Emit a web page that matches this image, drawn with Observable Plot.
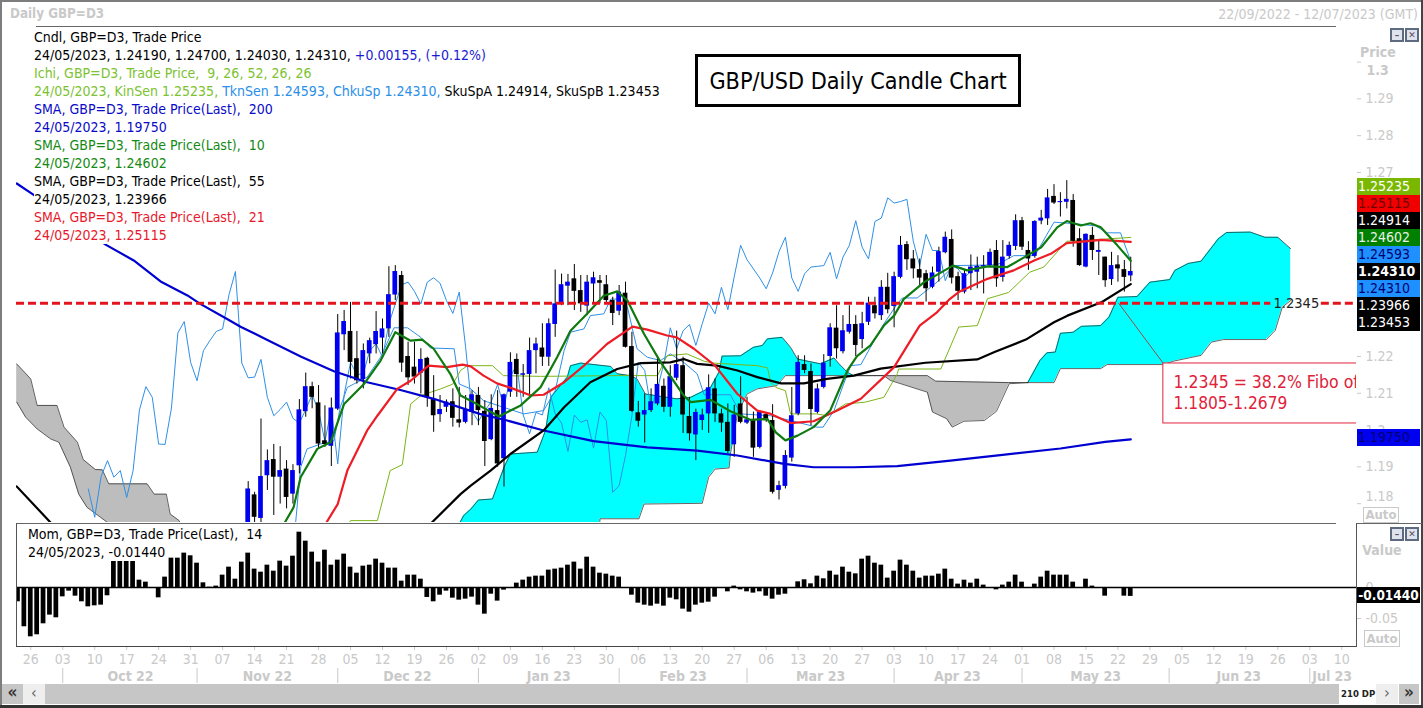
<!DOCTYPE html>
<html><head><meta charset="utf-8">
<script src="https://cdn.jsdelivr.net/npm/d3@7"></script>
<script src="https://cdn.jsdelivr.net/npm/@observablehq/plot@0.6"></script>
<style>
html,body{margin:0;padding:0;background:#fff}
#root{position:relative;width:1423px;height:708px;overflow:hidden;background:#fff;font-family:"DejaVu Sans Condensed","DejaVu Sans",sans-serif;font-stretch:condensed}
.abs{position:absolute;white-space:pre}
#root svg{position:absolute;background:transparent}
.row{position:absolute;left:34px;font-size:14px;line-height:18px;height:18px;background:#fff;white-space:pre}
.badge{position:absolute;left:1357px;width:62px;padding-left:1px;height:17px;line-height:17px;font-size:14px;text-align:left}
.btn{position:absolute;width:10px;height:10px;border:2px solid #5d6a80;background:#dfe3ee;color:#5d5060;font:bold 9px/10px "DejaVu Sans";text-align:center;overflow:hidden}
</style></head><body><div id="root"></div>
<script>
// Candles, first visible bar index
const firstBar = 36;
const opens = [1.1720,1.1824,1.1760,1.1876,1.1920,1.1872,1.1894,1.1826,1.1903,1.2050,1.2118,1.2074,1.1971,1.1956,1.2057,1.2259,1.2268,1.2194,1.2137,1.2207,1.2232,1.2250,1.2275,1.2367,1.2420,1.2200,1.2171,1.2154,1.2195,1.2083,1.2042,1.2062,1.2077,1.2028,1.2021,1.2048,1.2094,1.2051,1.1974,1.2053,1.1922,1.2103,1.2192,1.2149,1.2151,1.2216,1.2223,1.2198,1.2287,1.2345,1.2391,1.2411,1.2379,1.2337,1.2397,1.2406,1.2395,1.2352,1.2323,1.2372,1.2227,1.2047,1.2041,1.2053,1.2071,1.2119,1.2062,1.2141,1.2175,1.2037,1.1987,1.2026,1.2044,1.2112,1.2044,1.2021,1.1960,1.2071,1.2019,1.2026,1.1953,1.2042,1.2026,1.1836,1.1847,1.1924,1.2044,1.2178,1.2159,1.2048,1.2116,1.2200,1.2277,1.2213,1.2266,1.2287,1.2246,1.2293,1.2338,1.2311,1.2388,1.2336,1.2415,1.2504,1.2465,1.2436,1.2425,1.2388,1.2429,1.2482,1.2518,1.2417,1.2375,1.2425,1.2429,1.2443,1.2447,1.2488,1.2415,1.2472,1.2499,1.2569,1.2488,1.2472,1.2568,1.2574,1.2635,1.2618,1.2619,1.2624,1.2520,1.2443,1.2529,1.2483,1.2470,1.2409,1.2449,1.2436,1.2419];
const highs = [1.1860,1.1831,1.2030,1.1946,1.1961,1.1955,1.1917,1.1906,1.2083,1.2155,1.2130,1.2121,1.2066,1.2087,1.2314,1.2325,1.2347,1.2268,1.2234,1.2250,1.2322,1.2302,1.2444,1.2447,1.2431,1.2239,1.2239,1.2221,1.2198,1.2148,1.2094,1.2082,1.2112,1.2116,1.2094,1.2107,1.2116,1.2080,1.2096,1.2107,1.2098,1.2210,1.2207,1.2178,1.2250,1.2250,1.2289,1.2302,1.2435,1.2424,1.2423,1.2450,1.2420,1.2420,1.2429,1.2420,1.2420,1.2361,1.2393,1.2402,1.2266,1.2078,1.2098,1.2112,1.2198,1.2139,1.2175,1.2269,1.2198,1.2089,1.2057,1.2057,1.2150,1.2139,1.2057,1.2071,1.2067,1.2145,1.2089,1.2049,1.2053,1.2044,1.2069,1.1861,1.1944,1.2116,1.2202,1.2202,1.2180,1.2125,1.2205,1.2289,1.2338,1.2311,1.2338,1.2311,1.2320,1.2361,1.2361,1.2406,1.2426,1.2429,1.2526,1.2512,1.2488,1.2465,1.2434,1.2443,1.2497,1.2538,1.2544,1.2429,1.2436,1.2476,1.2470,1.2474,1.2492,1.2515,1.2515,1.2511,1.2585,1.2578,1.2512,1.2569,1.2597,1.2654,1.2667,1.2645,1.2678,1.2640,1.2547,1.2533,1.2551,1.2515,1.2470,1.2483,1.2474,1.2461,1.2470];
const lows = [1.1700,1.1736,1.1736,1.1836,1.1768,1.1799,1.1786,1.1799,1.1881,1.2035,1.2058,1.1949,1.1953,1.1901,1.2053,1.2216,1.2139,1.2125,1.2112,1.2180,1.2207,1.2207,1.2252,1.2352,1.2157,1.2121,1.2125,1.2098,1.2062,1.1994,1.2021,1.2048,1.2008,1.2006,1.2017,1.2012,1.2012,1.1901,1.1971,1.1899,1.1845,1.2089,1.2089,1.2089,1.2085,1.2153,1.2173,1.2173,1.2252,1.2338,1.2338,1.2325,1.2320,1.2311,1.2347,1.2343,1.2343,1.2284,1.2311,1.2223,1.2048,1.2008,1.1965,1.2048,1.2066,1.2048,1.2035,1.2134,1.1991,1.1970,1.1917,1.1999,1.1991,1.2021,1.1994,1.1935,1.1926,1.2017,1.2015,1.1926,1.1949,1.2021,1.1826,1.1810,1.1840,1.1913,1.2039,1.2153,1.2012,1.2044,1.2112,1.2171,1.2193,1.2207,1.2261,1.2200,1.2221,1.2284,1.2302,1.2298,1.2316,1.2278,1.2411,1.2434,1.2411,1.2393,1.2348,1.2384,1.2402,1.2479,1.2397,1.2352,1.2370,1.2379,1.2384,1.2370,1.2443,1.2388,1.2402,1.2465,1.2488,1.2488,1.2434,1.2467,1.2558,1.2556,1.2613,1.2579,1.2601,1.2497,1.2445,1.2441,1.2461,1.2420,1.2388,1.2393,1.2402,1.2375,1.2403];
const closes = [1.1840,1.1763,1.1874,1.1917,1.1872,1.1890,1.1817,1.1890,1.2055,1.2118,1.2089,1.1962,1.1961,1.2060,1.2264,1.2295,1.2184,1.2134,1.2216,1.2243,1.2268,1.2275,1.2368,1.2431,1.2182,1.2142,1.2144,1.2192,1.2089,1.2039,1.2056,1.2076,1.2032,1.2019,1.2056,1.2096,1.2053,1.1969,1.2059,1.1908,1.2096,1.2184,1.2151,1.2153,1.2216,1.2234,1.2198,1.2289,1.2343,1.2395,1.2402,1.2377,1.2343,1.2402,1.2414,1.2399,1.2352,1.2317,1.2375,1.2225,1.2051,1.2024,1.2053,1.2077,1.2124,1.2062,1.2145,1.2178,1.2041,1.1990,1.2048,1.2041,1.2115,1.2044,1.2019,1.1942,1.2041,1.2021,1.2028,1.1951,1.2049,1.2026,1.1831,1.1849,1.1931,1.2039,1.2184,1.2162,1.2056,1.2112,1.2182,1.2278,1.2221,1.2270,1.2287,1.2230,1.2289,1.2345,1.2316,1.2388,1.2327,1.2417,1.2502,1.2463,1.2438,1.2413,1.2384,1.2427,1.2485,1.2524,1.2413,1.2377,1.2425,1.2443,1.2445,1.2447,1.2483,1.2411,1.2470,1.2502,1.2569,1.2497,1.2465,1.2567,1.2576,1.2631,1.2617,1.2621,1.2627,1.2513,1.2447,1.2532,1.2488,1.2488,1.2406,1.2447,1.2438,1.2415,1.2431];

// Momentum, one value per bar from index 0
const momentum = [-.0231,-.0634,-.0796,-.0763,-.0586,-.0446,-.0489,-.0151,-.0059,-.0140,-.0231,-.0312,-.0296,-.0285,-.0134,.0430,.0430,.0430,.0430,.0118,.0086,0,-.0167,.0167,.0473,.0473,.0554,.0511,.0392,.0075,.0005,.0022,.0199,.0328,.0134,.0409,.0554,.0296,.0247,.0360,.0263,.0425,.0344,.0505,.0892,.0747,.0570,.0409,.0602,.0360,.0441,.0538,.0328,.0231,.0344,.0360,.0457,.0392,.0312,.0312,.0102,.0199,.0199,.0134,-.0161,-.0231,-.0124,-.0059,-.0172,-.0204,-.0188,-.0156,-.0285,-.0430,-.0108,-.0220,-.0043,0,.0070,.0118,.0167,.0183,.0183,.0280,.0296,.0312,.0360,.0409,.0296,.0489,.0328,.0231,.0215,.0183,.0167,0,-.0124,-.0253,-.0285,-.0301,-.0269,-.0301,-.0172,-.0199,-.0349,-.0398,-.0285,-.0253,-.0237,-.0156,0,-.0070,.0022,-.0038,-.0070,-.0091,-.0070,-.0140,-.0188,-.0124,-.0108,0,.0091,.0124,.0059,.0183,.0140,.0263,.0199,.0328,.0247,.0220,.0457,.0505,.0392,.0360,.0151,.0263,.0441,.0360,.0263,.0151,.0183,.0183,.0215,.0296,.0134,.0054,.0118,.0070,.0134,.0038,0,-.0038,.0038,.0086,.0199,.0086,0,.0054,.0167,.0263,.0199,.0199,.0199,.0086,-.0016,.0134,.0022,0,-.0140,-.0016,0,-.0140,-.0144];

// Moving average vertices
const sma200X = [-0.2,2.4,13.7,18.1,22.3,26.5,28.5,32.7,34.8,39,44.2,49.4,54.6,59.8,65,72.2,76.5,82.2,90,98.4,106.2,112.5,119.8,124.4,130.7,137.5,145.8,153.6,163,170,174];
const sma200Y = [1.2670,1.2640,1.2504,1.2461,1.2404,1.2366,1.2343,1.2302,1.2281,1.2245,1.2200,1.2160,1.2130,1.2109,1.2085,1.2044,1.2026,1.1999,1.1970,1.1953,1.1944,1.1931,1.1908,1.1899,1.1899,1.1902,1.1917,1.1932,1.1950,1.1968,1.1975];
const sma55X = [-0.2,5.3,6,64,64.5,69.2,70.8,73.9,77,82.2,85.4,89.5,93.7,97.4,102,104.1,106.2,109.3,112.5,115.6,119.3,122.9,126.5,130.7,134.9,141.9,150,152.7,157.6,162,164.1,169.5,174];
const sma55Y = [1.1847,1.1745,1.1735,1.1735,1.1745,1.1826,1.1849,1.1890,1.1935,1.1999,1.2062,1.2130,1.2166,1.2182,1.2184,1.2193,1.2180,1.2175,1.2162,1.2144,1.2127,1.2127,1.2139,1.2148,1.2167,1.2183,1.2192,1.2212,1.2246,1.2293,1.2311,1.2348,1.23966];
const sma21X = [47,48.1,50,51.5,54.6,56.2,59.3,61.4,64.2,67.1,69.5,70.8,72.8,74.9,77.5,80.2,82.2,85.4,88.5,92.1,96.1,98.4,101.5,103,105.7,109,112.5,115.6,117.7,120.8,124.4,128.1,131.8,137,141,143.7,145.7,147.1,151.6,155.7,158.9,161.5,164,169.3,174];
const sma21Y = [1.1720,1.1745,1.1799,1.1890,1.1999,1.2039,1.2112,1.2134,1.2175,1.2171,1.2178,1.2173,1.2148,1.2127,1.2112,1.2094,1.2096,1.2130,1.2175,1.2234,1.2281,1.2273,1.2257,1.2252,1.2221,1.2175,1.2098,1.2053,1.2044,1.2019,1.2024,1.2053,1.2085,1.2171,1.2284,1.2320,1.2356,1.2375,1.2411,1.2434,1.2461,1.2479,1.2508,1.2517,1.25115];
const sma10X = [41,41.6,43.1,44.2,46.8,48.9,51,54.1,56.7,59,61.4,63.2,65,67.6,69.2,70.8,75.2,78.6,81.7,84.3,86.4,89,91.6,93.7,95.3,97.9,100.5,104.1,105.2,108.3,111.4,114.5,117.2,118.5,120,121.9,124.4,127,129.7,131.2,133.3,135.4,137,138.5,141.7,146.2,148.4,151.6,154.7,157.4,160,162.5,164,166.2,167.7,169.3,171.9,174];
const sma10Y = [1.1720,1.1745,1.1790,1.1872,1.1949,1.1967,1.2071,1.2125,1.2189,1.2266,1.2243,1.2246,1.2221,1.2153,1.2094,1.2080,1.2037,1.2067,1.2116,1.2198,1.2270,1.2316,1.2365,1.2377,1.2352,1.2261,1.2184,1.2094,1.2076,1.2082,1.2051,1.2028,1.2030,1.1994,1.1972,1.1985,1.2008,1.2053,1.2162,1.2201,1.2230,1.2284,1.2311,1.2356,1.2402,1.2447,1.2434,1.2445,1.2443,1.2470,1.2497,1.2551,1.2568,1.2556,1.2562,1.2551,1.2502,1.24602];
const tenkanX = [43.4,44.2,45.2,47.3,49.4,50.4,51.5,52.5,54.6,56.7,58.8,60.9,63,64.5,68.2,69,70.8,72.8,75.9,79.1,82.2,84,85.4,86.4,88.5,89.5,91.6,92.7,93.7,95.3,96.8,98.4,100.5,102,104.1,106.2,107.3,111.4,113,117.7,120.8,124.9,125.9,127.6,129.1,130.2,131.8,133.3,135.4,137.5,138.3,140.6,143.7,146.4,153.1,155.7,159,162,165.7,168.5,170.3,172.4,174];
const tenkanY = [1.1745,1.1899,1.1949,1.1962,1.1971,1.2062,1.2116,1.2125,1.2144,1.2198,1.2278,1.2278,1.2252,1.2223,1.2221,1.2125,1.2112,1.2080,1.2062,1.2044,1.2053,1.2107,1.2216,1.2266,1.2275,1.2311,1.2316,1.2356,1.2356,1.2334,1.2221,1.2198,1.2189,1.2207,1.2184,1.2153,1.2096,1.2096,1.2044,1.2039,1.2026,1.2008,1.2008,1.2053,1.2125,1.2175,1.2178,1.2225,1.2289,1.2343,1.2359,1.2359,1.2402,1.2447,1.2449,1.2474,1.2474,1.2565,1.2560,1.2555,1.2536,1.2536,1.24593];
const kijunX = [51.7,52,56.2,58.2,60.1,61.4,63,66.1,68,69.2,70.3,74.2,75.9,81.7,93.7,100,101.5,104.6,107.3,108.8,115.6,117.2,117.7,118.5,120,120.8,124.9,126.5,129.4,132.5,135.4,137.5,137.7,144.3,147.1,150,151.6,154.9,158.2,160.4,162.7,164,174];
const kijunY = [1.1745,1.1754,1.1754,1.1890,1.1906,1.2071,1.2094,1.2112,1.2125,1.2162,1.2175,1.2175,1.2148,1.2146,1.2148,1.2148,1.2202,1.2207,1.2187,1.2182,1.2175,1.2169,1.2130,1.2116,1.2107,1.2044,1.2044,1.2039,1.2071,1.2076,1.2089,1.2153,1.2166,1.2166,1.2280,1.2284,1.2357,1.2374,1.2429,1.2443,1.2488,1.2513,1.25235];

// Ichimoku cloud edges
const grey1TopX = [-0.2,2,3,6.1,7.2,9.3,10.2,12.1,13.2,14.2,20.2,21.3,23.2,23.8,25.2,26];
const grey1TopY = [1.2180,1.2139,1.2067,1.2067,1.2008,1.1967,1.1920,1.1893,1.1892,1.1854,1.1854,1.1826,1.1826,1.1772,1.1754,1.1720];
const grey1BotX = [-0.2,1.2,3,5.1,6.4,8.2,9.5,10.8,14,16,26];
const grey1BotY = [1.2076,1.2035,1.2003,1.1976,1.1967,1.1899,1.1826,1.1790,1.1749,1.1720,1.1700];
const cyan1TopX = [69,69.7,70.8,72,74.2,76,77,81.2,82.5,83.3,85.9,86.4,88,92.7,93.7,95.8,96.8,98.1,103,105.2,108.3,109.6,110.1,113,115,116.4,117.2,119.5,120.8,121.9,125.5,127.6,128.4,129.7,130.7];
const cyan1TopY = [1.1745,1.1768,1.1785,1.1810,1.1813,1.1899,1.1935,1.1940,1.1999,1.2089,1.2144,1.2175,1.2182,1.2173,1.2153,1.2148,1.2139,1.2098,1.2085,1.2089,1.2116,1.2157,1.2201,1.2202,1.2225,1.2230,1.2248,1.2252,1.2225,1.2193,1.2180,1.2196,1.2180,1.2157,1.2148];
const cyan1BotX = [69,90.9,91,97.1,97.9,107,108,109,111.2,111.4,112.5,114,115.6,118.7,120,130.7];
const cyan1BotY = [1.1700,1.1700,1.1759,1.1759,1.1799,1.1801,1.1872,1.1894,1.1897,1.1935,1.2044,1.2098,1.2112,1.2121,1.2148,1.2148];
const grey2TopX = [130.7,142.2,143.5,154.9,157.9];
const grey2TopY = [1.2148,1.2148,1.2133,1.2129,1.2129];
const grey2BotX = [130.7,135.4,136.4,142.2,143,145.2,146.1,147.9,151.1,153,155,157.9];
const grey2BotY = [1.2148,1.2148,1.2135,1.2103,1.2049,1.2031,1.2008,1.2024,1.2026,1.2051,1.2126,1.2129];
const cyan2TopX = [157.9,159.8,160.9,162.2,163,165,166.3,169.3,170.6,172,175,177,180.1,180.9,183,185,187.7,189,192.7,195,197,199];
const cyan2TopY = [1.2129,1.2189,1.2210,1.2212,1.2263,1.2266,1.2282,1.2284,1.2307,1.2361,1.2363,1.2402,1.2409,1.2434,1.2453,1.2459,1.2520,1.2537,1.2538,1.2524,1.2524,1.2493];
const cyan2BotX = [157.9,162,163,169.3,170.3,179.1,180.6,185,186.6,188.5,195.2,196.6,197.7,199];
const cyan2BotY = [1.2129,1.2129,1.2167,1.2167,1.2178,1.2178,1.2187,1.2203,1.2239,1.2246,1.2246,1.2271,1.2334,1.2352];

// Axes
const priceTicks = [1.3,1.29,1.28,1.27,1.22,1.21,1.2,1.19,1.18];
const weekIdx = [2,7,12,17,22,27,32,37,42,47,52,57,62,67,72,77,82,87,92,97,102,107,112,117,122,127,132,137,142,147,152,157,162,167,172,177,182,187,192,197,202,207];
const weekLabels = ["26","03","10","17","24","31","07","14","21","28","05","12","19","26","02","09","16","23","30","06","13","20","27","06","13","20","27","03","10","17","24","01","08","15","22","29","05","12","19","26","03","10"];
const monthStarts = [7,28,50,72,94,114,137,157,180,202];
const monthCenters = [17.6,39,60.9,83,104,125.5,146.9,168.5,190.9,205.5];
const monthLabels = ["Oct 22","Nov 22","Dec 22","Jan 23","Feb 23","Mar 23","Apr 23","May 23","Jun 23","Jul 23"];

// Price badges on the right
const badgeValues = ["1.25235","1.25115","1.24914","1.24602","1.24593","1.24310","1.24310","1.23966","1.23453"];
const badgeFills = ["#7ab800","#f00000","#000000","#008000","#1e90ff","#000000","#1e90ff","#000000","#000000"];
const badgeInks = ["#ffffff","#700000","#ffffff","#e8f0e8","#000070","#ffffff","#000070","#ffffff","#ffffff"];
const badgeBold = [0,0,0,0,0,1,0,0,0];

// Legend
const legendRows = [
 [["Cndl, GBP=D3, Trade Price","#000"]],
 [["24/05/2023, 1.24190, 1.24700, 1.24030, 1.24310, ","#000"],["+0.00155, (+0.12%)","#1a1ad2"]],
 [["Ichi, GBP=D3, Trade Price,  9, 26, 52, 26, 26","#7cc231"]],
 [["24/05/2023, KinSen 1.25235, ","#7cc231"],["TknSen 1.24593, ChkuSp 1.24310, ","#2a8fe8"],["SkuSpA 1.24914, SkuSpB 1.23453","#000"]],
 [["SMA, GBP=D3, Trade Price(Last),  200","#0a0ac8"]],
 [["24/05/2023, 1.19750","#0a0ac8"]],
 [["SMA, GBP=D3, Trade Price(Last),  10","#148a14"]],
 [["24/05/2023, 1.24602","#148a14"]],
 [["SMA, GBP=D3, Trade Price(Last),  55","#000"]],
 [["24/05/2023, 1.23966","#000"]],
 [["SMA, GBP=D3, Trade Price(Last),  21","#e8182c"]],
 [["24/05/2023, 1.25115","#e8182c"]]
];

const root = document.getElementById("root");
const FONT = '"DejaVu Sans Condensed","DejaVu Sans",sans-serif';
const GREY = "#c9c9c9";
const xDomain = [-0.23, 209.3];
const BW = 0.37;

const bars = closes.map((c, k) => ({i: firstBar + k, o: opens[k], h: highs[k], l: lows[k], c}));
const chikou = bars.map(b => ({i: b.i - 25, v: b.c}));
const pts = (xs, ys) => xs.map((x, k) => ({x, y: ys[k]}));
const thin = (xs, ys, stroke, w) => Plot.line(pts(xs, ys), {x: "x", y: "y", stroke, strokeWidth: w, clip: true});
function band(tx, ty, bx, by, fill) {
  const n = Math.max(tx.length, bx.length), at = (a, k) => a[Math.min(k, a.length - 1)];
  return [
    Plot.area(d3.range(n), {x1: k => at(tx, k), y1: k => at(ty, k), x2: k => at(bx, k), y2: k => at(by, k), fill, clip: true}),
    thin(tx, ty, "#222", 0.7),
    thin(bx, by, "#222", 0.7)
  ];
}
const fib = 1.2345;

const main = Plot.plot({
  width: 1423, height: 496, marginLeft: 16, marginRight: 67, marginTop: 0, marginBottom: 0,
  x: {domain: xDomain, axis: null},
  y: {domain: [1.17489, 1.30967], axis: null},
  style: {fontFamily: FONT, background: "transparent", overflow: "visible"},
  marks: [
    band(grey1TopX, grey1TopY, grey1BotX, grey1BotY, "#bdbdbd"),
    band(cyan1TopX, cyan1TopY, cyan1BotX, cyan1BotY, "#00ffff"),
    band(grey2TopX, grey2TopY, grey2BotX, grey2BotY, "#bdbdbd"),
    band(cyan2TopX, cyan2TopY, cyan2BotX, cyan2BotY, "#00ffff"),
    Plot.line(chikou, {x: "i", y: "v", stroke: "#2f8fe6", strokeWidth: 1, clip: true}),
    thin(tenkanX, tenkanY, "#2f8fe6", 1),
    thin(kijunX, kijunY, "#7cb518", 1),
    Plot.ruleX(bars, {x: "i", y1: "l", y2: "h", stroke: "#000", strokeWidth: 1, clip: true}),
    Plot.rect(bars, {x1: d => d.i - BW, x2: d => d.i + BW, y1: "o", y2: "c",
      fill: d => d.c >= d.o ? "#0000f0" : "#000", clip: true}),
    thin(sma200X, sma200Y, "#0000d0", 2.2),
    thin(sma55X, sma55Y, "#000", 2.2),
    thin(sma21X, sma21Y, "#ee1c25", 2.2),
    thin(sma10X, sma10Y, "#0f7a0f", 2.2),
    Plot.ruleY([fib], {x1: xDomain[0], x2: 195.9, stroke: "#e4141e", strokeWidth: 3, strokeDasharray: "8 4"}),
    Plot.ruleY([fib], {x1: 203.8, x2: xDomain[1], stroke: "#e4141e", strokeWidth: 3, strokeDasharray: "8 4"}),
    Plot.text(["1.2345"], {x: 199.9, y: fib, fill: "#222", fontSize: 14.5}),
    Plot.line([{x: 172.1, y: fib}, {x: 179.1, y: 1.2181}], {x: "x", y: "y", stroke: "#a04a4a", strokeWidth: 1}),
    Plot.rect([0], {x1: 179.1, x2: 215, y1: 1.2018, y2: 1.2181, fill: "#fff", stroke: "#e0223a", strokeWidth: 1, clip: true}),
    Plot.text(["1.2345 = 38.2% Fibo of"], {x: 180.7, y: 1.2129, textAnchor: "start", fill: "#e0223a", fontSize: 17.5, clip: true}),
    Plot.text(["1.1805-1.2679"], {x: 180.7, y: 1.2072, textAnchor: "start", fill: "#e0223a", fontSize: 17.2, clip: true}),
    Plot.axisY(priceTicks, {anchor: "right", tickSize: 4, tickPadding: 5, color: GREY, fontSize: 14,
      tickFormat: v => (v === 1.3 || v === 1.18) ? "" : String(v)}),
    Plot.text(["1.3"], {x: xDomain[1], y: 1.3, dx: 10, dy: 8, textAnchor: "start", fill: GREY, fontSize: 14, fontWeight: "bold"}),
    Plot.text(["1.18"], {x: xDomain[1], y: 1.18, dx: 9, dy: -7, textAnchor: "start", fill: GREY, fontSize: 14})
  ]
});
main.style.cssText += ";left:0;top:26px";
root.appendChild(main);

const momPlot = Plot.plot({
  width: 1423, height: 123, marginLeft: 16, marginRight: 67, marginTop: 0, marginBottom: 0,
  x: {domain: xDomain, axis: null},
  y: {domain: [-0.0952, 0.1032], axis: null},
  style: {fontFamily: FONT, background: "transparent", overflow: "visible"},
  marks: [
    Plot.rect(momentum, {x1: (d, k) => k - BW, x2: (d, k) => k + BW, y1: 0, y2: d => d, fill: "#000", clip: true}),
    Plot.ruleY([0], {stroke: "#000", strokeWidth: 1.3}),
    Plot.axisY([-0.05, 0], {anchor: "right", tickSize: 4, tickPadding: 5, color: GREY, fontSize: 14, tickFormat: v => String(v)})
  ]
});
momPlot.style.cssText += ";left:0;top:523px";
root.appendChild(momPlot);

const axisPlot = Plot.plot({
  width: 1423, height: 40, marginLeft: 16, marginRight: 67, marginTop: 0, marginBottom: 0,
  x: {domain: xDomain, axis: null},
  y: {domain: [0, 40], range: [0, 40], axis: null},
  style: {fontFamily: FONT, background: "transparent", overflow: "visible"},
  marks: [
    Plot.ruleX(weekIdx, {x: d => d, y1: 1, y2: 4, stroke: GREY}),
    Plot.text(weekIdx, {x: d => d, y: 13, text: (d, k) => weekLabels[k], fill: GREY, fontSize: 14}),
    Plot.ruleX(monthStarts, {x: d => d, y1: 22, y2: 37, stroke: GREY}),
    Plot.text(monthCenters, {x: d => d, y: 30, text: (d, k) => monthLabels[k], fill: GREY, fontSize: 14, fontWeight: "bold"})
  ]
});
axisPlot.style.cssText += ";left:0;top:646px";
root.appendChild(axisPlot);

// Page furniture
function box(l, t, w, h, css, txt) {
  const e = document.createElement("div");
  e.className = "abs";
  e.style.cssText = `left:${l}px;top:${t}px;width:${w}px;height:${h}px;${css}`;
  if (txt != null) e.textContent = txt;
  root.appendChild(e);
  return e;
}
// scrollbar
box(2, 684, 21, 20, "background:#c6c6c6;color:#333;font-size:17px;line-height:17px;text-align:center;font-weight:bold", "«");
box(23, 684, 22, 20, "background:#eeeeee;color:#666;font-size:16px;line-height:18px;text-align:center", "‹");
box(45, 684, 1294, 20, "background:#c6c6c6");
box(1341, 686, 33, 16, "background:#fff;color:#222;font-size:9.5px;line-height:16px;font-weight:bold;text-align:center", "210 DP");
box(1376, 684, 22, 20, "background:#eeeeee;color:#666;font-size:16px;line-height:18px;text-align:center", "›");
box(1399, 684, 20, 20, "background:#c6c6c6;color:#333;font-size:17px;line-height:17px;text-align:center;font-weight:bold", "»");

// frame lines
box(0, 0, 1423, 2, "background:#7d7d7d");
box(0, 0, 2, 708, "background:#7d7d7d");
box(1421, 0, 2, 708, "background:#444");
box(0, 705, 1423, 3, "background:#333");
box(36, 26, 1300, 1, "background:#666");
box(16, 523, 1320, 1, "background:#666");
box(1356, 523, 66, 1, "background:#666");
box(16, 523, 1, 124, "background:#555");
box(16, 646, 1341, 1, "background:#444");
box(1356, 523, 1, 124, "background:#555");

// header
box(10, 5, 200, 18, `color:${GREY};font-size:13.3px;line-height:18px;font-weight:bold`, "Daily GBP=D3");
box(1118, 5, 300, 18, `color:${GREY};font-size:14px;line-height:18px;text-align:right`, "22/09/2022 - 12/07/2023 (GMT)");

// legend rows
legendRows.forEach((parts, k) => {
  const r = document.createElement("div");
  r.className = "row";
  r.style.top = (28 + 18 * k) + "px";
  parts.forEach(([t, c]) => { const s = document.createElement("span"); s.textContent = t; s.style.color = c; r.appendChild(s); });
  root.appendChild(r);
});
// momentum legend
box(28, 526, 300, 17, "font-size:14px;line-height:17px;color:#000;width:auto;background:#fff", "Mom, GBP=D3, Trade Price(Last),  14");
box(28, 544, 150, 17, "font-size:14px;line-height:17px;color:#000;width:auto;background:#fff", "24/05/2023, -0.01440");

// title box
box(695, 54, 320, 47, "border:3px solid #000;background:#fff;color:#000;font-size:23.2px;line-height:47px;text-align:center", "GBP/USD Daily Candle Chart");

// right column
box(1340, 43, 76, 18, `color:${GREY};font-size:14px;line-height:18px;font-weight:bold;text-align:center`, "Price");
box(1342, 541, 80, 18, `color:${GREY};font-size:14px;line-height:18px;font-weight:bold;text-align:center`, "Value");
badgeValues.forEach((v, k) => {
  const e = document.createElement("div");
  e.className = "badge";
  e.textContent = v;
  e.style.cssText = `top:${178 + 17 * k}px;background:${badgeFills[k]};color:${badgeInks[k]};font-weight:${badgeBold[k] ? "bold" : "normal"}`;
  root.appendChild(e);
});
box(1357, 429, 62, 17, "padding-left:1px;background:#0000f0;color:#000070;font-size:14px;line-height:17px;text-align:left", "1.19750");
box(1357, 587, 63, 16, "background:#000;color:#fff;font-size:13.5px;line-height:16px;font-weight:bold;text-align:center", "-0.01440");
box(1363, 507, 34, 14, `border:1px solid ${GREY};color:${GREY};font-size:13px;line-height:14px;font-weight:bold;text-align:center;background:#fff`, "Auto");
box(1364, 630, 34, 15, `border:1px solid ${GREY};color:${GREY};font-size:13px;line-height:15px;font-weight:bold;text-align:center;background:#fff`, "Auto");
[[1390, 28, "–"], [1405, 28, "✕"], [1390, 527, "–"], [1405, 527, "✕"]].forEach(([l, t, g]) => {
  const e = document.createElement("div");
  e.className = "btn";
  e.style.left = l + "px";
  e.style.top = t + "px";
  e.textContent = g;
  root.appendChild(e);
});
</script></body></html>
